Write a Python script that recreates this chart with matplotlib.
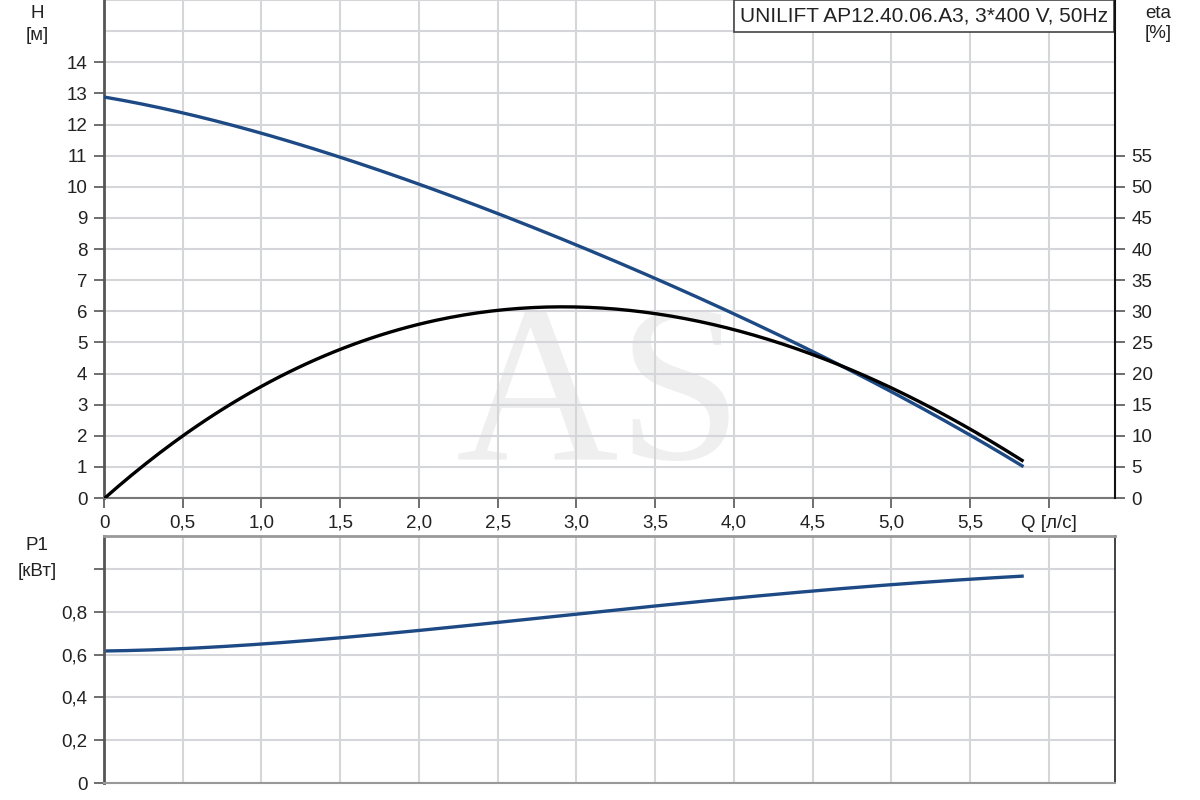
import matplotlib.pyplot as plt
import numpy as np

plt.rcParams['font.family'] = ['Liberation Sans', 'DejaVu Sans']

# Расход Q [л/с] и кривые насоса
q = [0.0, 0.5, 1.0, 1.5, 2.0, 2.5, 3.0, 3.5, 4.0, 4.5, 5.0, 5.5, 5.83]
head = [12.9, 12.35, 11.7, 10.95, 10.14, 9.12, 8.12, 7.06, 5.9, 4.69, 3.42, 2.07, 1.0]
eta = [0.0, 9.8, 17.8, 24.0, 28.0, 30.3, 30.7, 29.4, 26.9, 23.1, 17.8, 11.2, 5.9]
p1 = [0.618, 0.626, 0.648, 0.676, 0.712, 0.762, 0.785, 0.82, 0.862, 0.897, 0.93, 0.953, 0.964]

q_ticks = [0, 0.5, 1.0, 1.5, 2.0, 2.5, 3.0, 3.5, 4.0, 4.5, 5.0, 5.5, 6.0]
q_labels = ['0', '0,5', '1,0', '1,5', '2,0', '2,5', '3,0', '3,5', '4,0', '4,5', '5,0', '5,5', 'Q [л/с]']
h_ticks = list(range(0, 15))
eta_ticks = list(range(0, 60, 5))
p_ticks = [0, 0.2, 0.4, 0.6, 0.8, 1.0]
p_labels = ['0', '0,2', '0,4', '0,6', '0,8', '']
title = 'UNILIFT AP12.40.06.A3, 3*400 V, 50Hz'

blue = '#1d4a85'
grid_c = '#d4d6da'
txt = '#222222'
fs = 13.5

fig = plt.figure(figsize=(12, 8), dpi=100)
ax = fig.add_axes([104/1200, 1-498/800, (1115-104)/1200, 498/800])
ax2 = ax.twinx()
axp = fig.add_axes([104/1200, 1-783/800, (1115-104)/1200, (783-536)/800])

# сглаживание кривых
qs = np.linspace(q[0], q[-1], 200)
def smooth(y):
    c = np.polyfit(q, y, 4)
    return np.polyval(c, qs)

ax.set_xlim(0, 6.42)
ax.set_ylim(0, 16)
ax2.set_ylim(0, 80)

# watermark, под сеткой
ax.text(3.15, -0.3, 'AS', family='Liberation Serif', fontsize=162,
        color='#efefef', ha='center', va='bottom', zorder=0.1)

ax.set_xticks(q_ticks)
ax.set_xticklabels(q_labels)
ax.set_yticks(h_ticks)
ax.set_yticks(range(0, 17), minor=True)
ax2.set_yticks(eta_ticks)
ax.grid(True, which='both', color=grid_c, lw=1.5, zorder=0.5)
ax.tick_params(which='minor', length=0)
ax.set_axisbelow(True)
ax.patch.set_alpha(0)

ax.plot(qs, smooth(head), color=blue, lw=2.4, zorder=3)
ax2.plot(qs, smooth(eta), color='black', lw=2.4, zorder=3)

for a in (ax, ax2, axp):
    a.tick_params(labelsize=fs, colors='#555555', labelcolor=txt, length=7, width=1.2, pad=5)
ax.spines['top'].set_visible(False)
ax2.spines['top'].set_visible(False)
ax.spines['left'].set_color('#555555')
ax.spines['left'].set_linewidth(2)
ax.spines['bottom'].set_color('#777777')
ax.spines['bottom'].set_linewidth(1.5)
ax2.spines['right'].set_color('#111111')
ax2.spines['right'].set_linewidth(1.5)
ax2.spines['left'].set_visible(False)
ax2.spines['bottom'].set_visible(False)
ax.spines['right'].set_visible(False)

ax.text(0.993, 1 - 16/498, title, transform=ax.transAxes, ha='right', va='center',
        fontsize=15, color=txt, zorder=5,
        bbox=dict(boxstyle='square,pad=0.3', fc='white', ec='#444444', lw=1.2))

fig.text(37/1200, 1-13/800, 'H', ha='center', va='center', fontsize=fs, color=txt)
fig.text(37/1200, 1-36/800, '[м]', ha='center', va='center', fontsize=fs, color=txt)
fig.text(1158/1200, 1-13/800, 'eta', ha='center', va='center', fontsize=fs, color=txt)
fig.text(1158/1200, 1-34/800, '[%]', ha='center', va='center', fontsize=fs, color=txt)
fig.text(37/1200, 1-546/800, 'P1', ha='center', va='center', fontsize=fs, color=txt)
fig.text(37/1200, 1-571/800, '[кВт]', ha='center', va='center', fontsize=fs, color=txt)

# нижний график P1
axp.set_xlim(0, 6.42)
axp.set_ylim(0, (783-536)/214.1)
axp.set_xticks(q_ticks)
axp.set_xticklabels([])
axp.tick_params(axis='x', length=0)
axp.set_yticks(p_ticks)
axp.set_yticklabels(p_labels)
axp.grid(True, color=grid_c, lw=1.5)
axp.set_axisbelow(True)
axp.patch.set_alpha(0)
axp.plot(qs, smooth(p1), color=blue, lw=2.4)
axp.spines['top'].set_color('#999999')
axp.spines['top'].set_linewidth(2)
axp.spines['left'].set_color('#555555')
axp.spines['left'].set_linewidth(2)
axp.spines['bottom'].set_color('#999999')
axp.spines['bottom'].set_linewidth(1.5)
axp.spines['right'].set_color('#222222')
axp.spines['right'].set_linewidth(1.2)

fig.savefig('out.png', dpi=100)
